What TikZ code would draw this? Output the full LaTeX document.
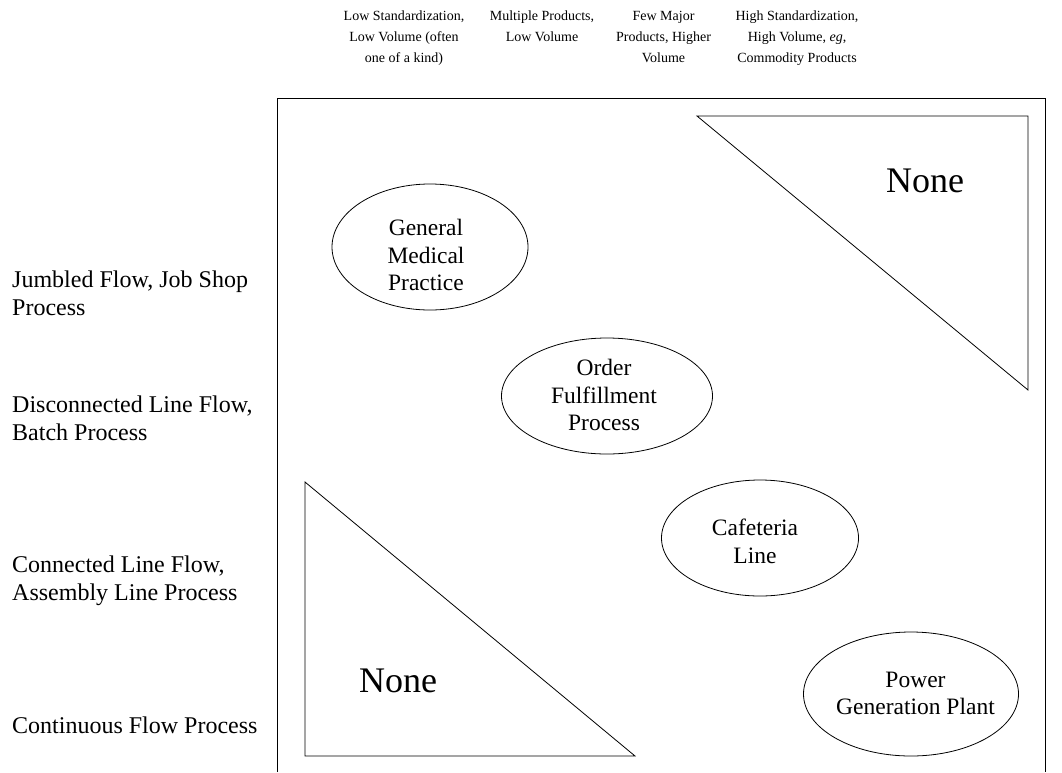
\documentclass[tikz,border=0pt]{standalone}
\usepackage{fontspec}
\setmainfont{Liberation Serif}
\usetikzlibrary{shapes.geometric}
\tikzset{
  collabel/.style={inner sep=0pt, anchor=north, align=center, font=\fontsize{14}{21}\selectfont},
  rowlabel/.style={inner sep=0pt, anchor=north west, align=left, font=\fontsize{24}{28.5}\selectfont},
  oval/.style={draw, ellipse, line width=0.8pt, inner sep=0pt},
  ovaltext/.style={inner sep=0pt, anchor=north, align=center, font=\fontsize{23.5}{27.5}\selectfont},
  nonetext/.style={inner sep=0pt, anchor=base, font=\fontsize{36}{40}\selectfont},
  frame/.style={draw, line width=1pt},
  tri/.style={draw, line width=0.8pt, line join=miter}
}
\begin{document}
\begin{tikzpicture}[x=1pt, y=-1pt]
\useasboundingbox (0,0) rectangle (1062,772);
% column headings
\node[collabel] (c1) at (404,10.5) {Low Standardization,\\Low Volume (often\\one of a kind)};
\node[collabel] (c2) at (542,10.5) {Multiple Products,\\Low Volume};
\node[collabel] (c3) at (663.5,10.5) {\vphantom{d}Few Major\\Products, Higher\\Volume};
\node[collabel] (c4) at (797,10.5) {High Standardization,\\High Volume, \emph{eg},\\Commodity Products};
% row headings
\node[rowlabel] (r1) at (12,270.6) {Jumbled Flow, Job Shop\\Process};
\node[rowlabel] (r2) at (12,395.6) {Disconnected Line Flow,\\Batch Process};
\node[rowlabel] (r3) at (12,555.6) {Connected Line Flow,\\Assembly Line Process};
\node[rowlabel] (r4) at (12,716.6) {Continuous Flow Process};
% frame (open at the bottom)
\draw[frame] (277,772) -- (277,98) -- (1045,98) -- (1045,772);
% triangles
\draw[tri] (697,116) -- (1028,116) -- (1028,390) -- cycle;
\draw[tri] (305,482) -- (305,756) -- (635,756) -- cycle;
\node[nonetext] (n1) at (925,192) {None};
\node[nonetext] (n2) at (398,692) {None};
% ellipses
\node[oval, minimum width=196pt, minimum height=126pt] (gmp) at (430,247) {};
\node[ovaltext] (gmpt) at (426,219) {General\\Medical\\Practice};
\node[oval, minimum width=211pt, minimum height=116pt] (ofp) at (607,396) {};
\node[ovaltext] (ofpt) at (604,359) {Order\\Fulfillment\\Process};
\node[oval, minimum width=197pt, minimum height=116pt] (caf) at (760,538) {};
\node[ovaltext] (caft) at (755,519) {Cafeteria\\Line};
\node[oval, minimum width=215pt, minimum height=124pt] (pgp) at (911,694) {};
\node[ovaltext] (pgpt) at (915.5,671.4) {Power\\Generation Plant};
\end{tikzpicture}
\end{document}
